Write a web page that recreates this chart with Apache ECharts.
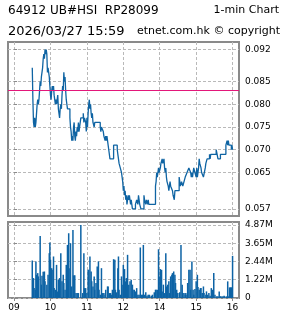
<!DOCTYPE html>
<html><head><meta charset="utf-8">
<script src="https://cdn.jsdelivr.net/npm/echarts@6/dist/echarts.min.js"></script>
<style>html,body{margin:0;padding:0;background:#fff}#c{width:285px;height:318px}</style>
</head><body><div id="c"></div>
<script>
// ---- data ----
const titleLeft1 = "64912 UB#HSI  RP28099";
const titleRight1 = "1-min Chart";
const titleLeft2 = "2026/03/27 15:59";
const titleRight2 = "etnet.com.hk \u00a9 copyright";

const priceTimes = ["09:30","09:31","09:32","09:33","09:34","09:35","09:36","09:37","09:38","09:39","09:40","09:41","09:42","09:43","09:44","09:45","09:46","09:47","09:48","09:49","09:50","09:51","09:52","09:53","09:54","09:55","09:56","09:57","09:58","09:59",
"10:00","10:01","10:02","10:03","10:04","10:05","10:06","10:07","10:08","10:09","10:10","10:11","10:12","10:13","10:14","10:15","10:16","10:17","10:18","10:19","10:20","10:21","10:22","10:23","10:24","10:25","10:26","10:27","10:28","10:32","10:33","10:34","10:35","10:36","10:37","10:38","10:39","10:40","10:41","10:42","10:43","10:44","10:45","10:46","10:47","10:48","10:49","10:50","10:54","10:55","10:56","10:58","10:59",
"11:00","11:01","11:02","11:03","11:04","11:05","11:06","11:07","11:08","11:09","11:10","11:12","11:13","11:22","11:23","11:24","11:27","11:28","11:30","11:31","11:32","11:33","11:34","11:36","11:38","11:44","11:50","11:51","11:52","11:53","11:55","11:57","11:58","11:59",
"13:00","13:01","13:02","13:03","13:04","13:05","13:06","13:07","13:08","13:09","13:10","13:11","13:12","13:13","13:14","13:15","13:20","13:22","13:24","13:25","13:27","13:29","13:34","13:35","13:37","13:38","13:40","13:41","13:42","13:53","13:54","13:55","13:56","13:58","13:59",
"14:01","14:02","14:04","14:05","14:07","14:08","14:09","14:10","14:11","14:12","14:14","14:15","14:17","14:18","14:21","14:22","14:24","14:25","14:32","14:34","14:36","14:38","14:40","14:42","14:45","14:48","14:51","14:52","14:53","14:54","14:56","14:58",
"15:00","15:01","15:02","15:04","15:05","15:06","15:08","15:09","15:12","15:15","15:16","15:18","15:22","15:23","15:24","15:33","15:36","15:40","15:49","15:51","15:52","15:53","15:54","15:58","15:59","16:00"];
const prices = [0.088,0.081,0.076,0.075,0.077,0.075,0.076,0.078,0.080,0.081,0.080,0.081,0.083,0.085,0.084,0.086,0.087,0.088,0.090,0.091,0.090,0.092,0.091,0.092,0.091,0.087,0.088,0.087,0.086,0.084,
0.082,0.081,0.083,0.084,0.083,0.084,0.082,0.081,0.080,0.081,0.080,0.081,0.082,0.079,0.078,0.077,0.079,0.080,0.079,0.082,0.084,0.083,0.087,0.085,0.086,0.083,0.081,0.080,0.079,0.077,0.075,0.074,0.072,0.073,0.072,0.075,0.076,0.073,0.072,0.074,0.073,0.075,0.074,0.076,0.074,0.075,0.076,0.077,0.078,0.076,0.077,0.076,0.074,
0.077,0.075,0.078,0.080,0.081,0.079,0.080,0.078,0.077,0.078,0.076,0.075,0.076,0.075,0.074,0.075,0.074,0.073,0.072,0.073,0.072,0.073,0.072,0.070,0.068,0.071,0.070,0.069,0.068,0.067,0.066,0.065,0.064,0.063,
0.061,0.062,0.060,0.061,0.059,0.060,0.058,0.059,0.060,0.059,0.060,0.059,0.058,0.059,0.058,0.057,0.058,0.059,0.058,0.060,0.058,0.057,0.060,0.059,0.058,0.059,0.058,0.059,0.058,0.062,0.063,0.065,0.064,0.066,0.065,
0.066,0.067,0.068,0.067,0.068,0.066,0.065,0.066,0.064,0.063,0.062,0.061,0.063,0.062,0.061,0.060,0.059,0.061,0.064,0.062,0.063,0.062,0.063,0.064,0.065,0.066,0.065,0.064,0.065,0.064,0.066,0.065,
0.064,0.066,0.064,0.066,0.068,0.067,0.066,0.065,0.064,0.066,0.067,0.068,0.069,0.068,0.069,0.070,0.068,0.069,0.071,0.072,0.071,0.072,0.071,0.070,0.071,0.070];
const prevClose = 0.083;

const volTimes = ["09:30","09:32","09:33","09:35","09:36","09:37","09:39","09:40","09:43","09:45","09:46","09:48","09:50","09:51","09:54","09:56","09:58","09:59",
"10:00","10:02","10:04","10:05","10:06","10:08","10:10","10:12","10:13","10:15","10:17","10:19","10:21","10:22","10:24","10:26","10:27","10:28","10:30","10:32","10:33","10:35","10:37","10:38","10:40","10:42","10:44","10:46","10:50","10:53","10:55","10:56","10:58",
"11:00","11:02","11:03","11:05","11:07","11:08","11:10","11:12","11:13","11:15","11:17","11:19","11:20","11:22","11:24","11:26","11:28","11:30","11:31","11:34","11:35","11:37","11:39","11:41","11:42","11:44","11:46","11:47","11:49","11:51","11:52","11:53","11:55","11:57","11:58",
"13:00","13:02","13:04","13:05","13:07","13:09","13:11","13:13","13:15","13:16","13:18","13:20","13:22","13:24","13:26","13:28","13:30","13:32","13:33","13:35","13:37","13:39","13:41","13:43","13:46","13:48","13:51","13:53","13:54","13:56","13:58","13:59",
"14:01","14:03","14:04","14:06","14:08","14:10","14:11","14:13","14:15","14:16","14:18","14:20","14:21","14:23","14:25","14:26","14:28","14:29","14:32","14:33","14:35","14:37","14:38","14:40","14:42","14:43","14:45","14:46","14:48","14:50","14:51","14:53","14:55","14:56","14:58",
"15:00","15:02","15:03","15:05","15:07","15:08","15:10","15:12","15:13","15:16","15:17","15:19","15:21","15:23","15:25","15:27","15:29","15:31","15:34","15:36","15:38","15:40","15:41","15:44","15:46","15:47","15:50","15:52","15:53","15:55","15:57","15:58","16:00"];
const volumes = [2.50,1.33,0.66,0.55,2.44,1.55,1.66,1.44,4.14,0.89,1.48,1.75,1.77,1.11,0.89,1.55,2.99,3.70,
2.55,1.99,1.88,2.77,0.66,0.55,2.21,0.44,1.22,1.33,2.99,1.11,1.55,1.00,0.55,2.21,1.44,3.54,4.32,1.99,3.65,0.77,4.54,1.51,1.51,0.33,0.33,0.33,4.87,0.33,2.99,0.66,0.66,
0.33,1.88,1.88,2.77,1.77,1.11,0.77,1.44,0.55,1.00,2.10,2.44,0.55,0.22,1.99,0.33,0.33,0.22,0.55,0.77,0.77,0.33,0.33,0.22,0.55,2.59,2.55,0.55,0.38,1.99,2.77,0.55,0.22,1.44,0.89,
2.21,1.93,1.11,1.33,2.88,0.89,1.11,1.22,0.89,0.55,0.55,0.44,0.66,0.22,0.22,3.37,0.22,0.22,3.54,0.22,0.38,0.15,0.22,0.22,0.15,0.22,0.38,0.55,0.55,0.55,3.25,1.44,
1.93,1.88,0.44,0.89,0.33,2.99,0.77,0.89,1.11,0.33,1.44,1.55,1.66,1.77,1.55,1.00,0.55,0.33,0.33,0.38,3.54,0.89,0.33,0.33,0.22,0.33,0.22,1.00,1.88,1.88,0.55,2.44,0.55,0.22,0.60,
1.11,1.55,0.73,0.55,0.66,0.66,0.33,0.77,0.33,0.22,0.44,0.22,0.33,0.15,0.66,0.55,1.66,0.22,0.11,0.11,0.44,0.11,0.11,0.11,0.15,0.11,0.11,1.11,0.11,0.71,0.71,0.71,2.81];

const priceTicks = [0.057,0.065,0.070,0.075,0.080,0.085,0.092];
const volTicks = [0,1.2175,2.435,3.6525,4.87];
const hourLabels = ["09","10","11","12","14","15","16"];

// ---- helpers ----
function toT(s){ // trading minutes since 09:00, lunch removed
  const p = s.split(":"); let m = (+p[0])*60 + (+p[1]) - 540;
  if (m >= 240) m -= 60;
  return m;
}
const hourVals = hourLabels.map(h => toT(h + ":00"));
const priceData = priceTimes.map((t,i)=>[toT(t), prices[i]]);
const volData = volTimes.map((t,i)=>[toT(t), volumes[i]]);

const FONT = "DejaVu Sans";
const gridLine = {show:true, lineStyle:{color:"#b9b9b9", type:[3,2], width:1}};
const XMIN = -10, XMAX = 370.6;

const chart = echarts.init(document.getElementById("c"), null, {renderer:"canvas"});
chart.setOption({
  animation:false,
  backgroundColor:"#fff",
  textStyle:{fontFamily:FONT},
  graphic:[
    {type:"text", left:8, top:5, style:{text:titleLeft1, font:"12px "+FONT, fill:"#000"}},
    {type:"text", right:6, top:5, style:{text:titleRight1, font:"11px "+FONT, fill:"#000"}},
    {type:"text", left:8, top:25, style:{text:titleLeft2, font:"13px "+FONT, fill:"#000"}},
    {type:"text", right:5, top:26, style:{text:titleRight2, font:"11px "+FONT, fill:"#000"}}
  ],
  grid:[
    {left:8, right:46, top:42, bottom:102, show:true, borderColor:"#8a8a8a", borderWidth:2, backgroundColor:"#fff"},
    {left:8, right:46, top:222, bottom:20, show:true, borderColor:"#8a8a8a", borderWidth:2, backgroundColor:"#fff"}
  ],
  xAxis:[
    {type:"value", gridIndex:0, min:XMIN, max:XMAX,
     axisLine:{show:false}, axisTick:{show:false, customValues:hourVals},
     axisLabel:{show:false, customValues:hourVals}, splitLine:gridLine},
    {type:"value", gridIndex:1, min:XMIN, max:XMAX,
     axisLine:{show:false},
     axisTick:{show:true, length:3, customValues:hourVals, lineStyle:{color:"#8a8a8a"}},
     axisLabel:{show:true, customValues:hourVals, margin:5, fontSize:9, color:"#000", fontFamily:FONT,
       formatter:(v)=>{const i=hourVals.indexOf(v); return i>=0?hourLabels[i]:"";}},
     splitLine:gridLine}
  ],
  yAxis:[
    {type:"value", gridIndex:0, position:"right", min:0.05544, max:0.09368,
     axisLine:{show:false},
     axisTick:{show:true, length:3, customValues:priceTicks, lineStyle:{color:"#8a8a8a"}},
     axisLabel:{customValues:priceTicks, margin:6, fontSize:9, color:"#000", fontFamily:FONT,
       formatter:(v)=>v.toFixed(3)},
     splitLine:gridLine},
    {type:"value", gridIndex:1, position:"right", min:0, max:5.07,
     axisLine:{show:false},
     axisTick:{show:true, length:3, customValues:volTicks, lineStyle:{color:"#8a8a8a"}},
     axisLabel:{customValues:volTicks, margin:6, fontSize:9, color:"#000", fontFamily:FONT,
       formatter:(v)=> v===0 ? "0" : v.toFixed(2)+"M"},
     splitLine:gridLine}
  ],
  series:[
    {type:"line", xAxisIndex:0, yAxisIndex:0, data:priceData, step:"end",
     showSymbol:false, symbol:"none", lineStyle:{color:"#0f64a3", width:1.3},
     markLine:{silent:true, symbol:"none", precision:4, label:{show:false},
       lineStyle:{color:"#e3177a", type:"solid", width:1.2},
       data:[{yAxis:prevClose}]}},
    {type:"bar", xAxisIndex:1, yAxisIndex:1, data:volData, barWidth:1.5,
     itemStyle:{color:"#0d63a5"}}
  ]
});
</script></body></html>
